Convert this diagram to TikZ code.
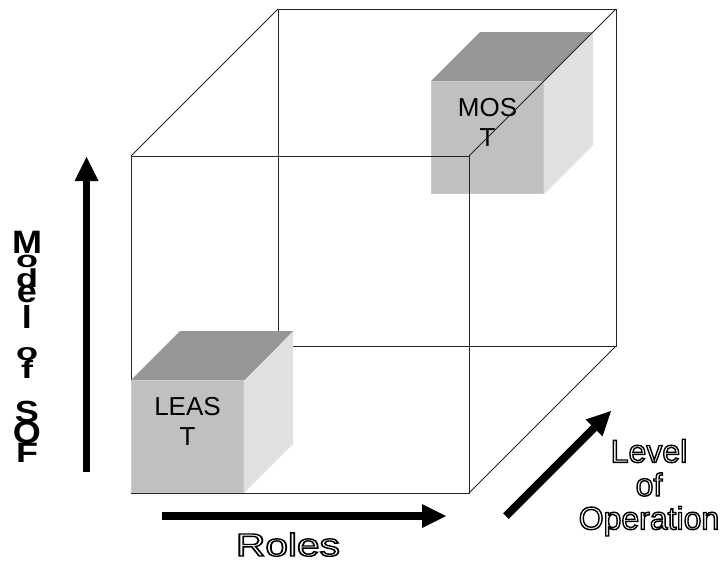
\documentclass[tikz,border=0pt]{standalone}
\usepackage{fontspec}
\setmainfont{Liberation Sans}
\usepackage{graphicx}
\usetikzlibrary{arrows.meta}
\definecolor{frontc}{HTML}{C0C0C0}
\definecolor{frontb}{HTML}{CACACA}
\definecolor{topc}{HTML}{969696}
\definecolor{rightc}{HTML}{E0E0E0}
\newcommand\outl[1]{\special{pdf:literal direct 2 Tr 1.4 w 0 0 0 RG 1 1 1 rg}#1\special{pdf:literal direct 0 Tr 0 0 0 rg}}
\newcommand\drawcubebox[4]{%
  \fill[rightc] (#1+113,#2) -- ++(49,-49) -- ++(0,113) -- ++(-49,49) -- cycle;
  \fill[topc] (#1,#2) -- ++(49,-49) -- ++(113,0) -- ++(-49,49) -- cycle;
  \filldraw[fill=frontc, draw=frontb, line width=1pt] (#1+0.5,#2+0.5) rectangle ++(112,112);
  \node[cubelabel] (#3) at (#1+56.5,#2+17) {#4};
}
\begin{document}
\begin{tikzpicture}[x=1pt,y=-1pt,
  edge/.style={draw=black!85, line width=0.8pt},
  cubelabel/.style={anchor=north, inner sep=0pt, align=center,
    font=\fontsize{26}{30.5}\selectfont},
  vletter/.style={anchor=base, inner sep=0pt,
    font=\fontsize{36}{36}\selectfont\bfseries},
  outlined/.style={inner sep=0pt, align=center,
    font=\fontsize{32}{33.5}\selectfont},
  fatarrow/.style={line width=#1, black,
    -{Triangle[length=24pt, width=24pt, line width=0pt]}}]
\fill[white] (0,0) rectangle (720,570);
\useasboundingbox (0,0) rectangle (720,570);
% big cube corners
\coordinate (F1) at (131,156);
\coordinate (F2) at (469,156);
\coordinate (F3) at (469,493);
\coordinate (F4) at (131,493);
\coordinate (B1) at (278,9);
\coordinate (B2) at (616,9);
\coordinate (B3) at (616,346);
\coordinate (B4) at (278,346);
% back face
\draw[edge] (B1) -- (B2) -- (B3) -- (B4) -- cycle;
\draw[edge] (F4) -- (B4);
% MOST cube
\drawcubebox{431}{81}{most}{MOS\\T}
% connecting edges and front face
\draw[edge] (F1) -- (B1) (F2) -- (B2) (F3) -- (B3);
\draw[edge] (F1) -- (F2) -- (F3) -- (F4) -- cycle;
% LEAST cube
\drawcubebox{131}{380}{least}{LEAS\\T}
% axis arrows
\coordinate (va) at (86.5,472);
\coordinate (vb) at (86.5,157);
\draw[fatarrow=7pt] (va) -- (vb);
\coordinate (ha) at (162,516);
\coordinate (hb) at (446,516);
\draw[fatarrow=8pt] (ha) -- (hb);
\coordinate (da) at (506,516);
\coordinate (db) at (611,411);
\draw[fatarrow=8pt] (da) -- (db);
% labels
\foreach \ch/\yy/\sc [count=\i] in {M/253/0.9, o/267/0.64, d/287/0.72, e/302/0.88,
    l/328/0.88, o/360/0.67, f/378/0.7, S/422/0.85, O/443/0.88, F/462/0.78}
  \node[vletter] (sof\i) at (27,\yy) {\scalebox{1}[\sc]{\ch}};
\node[outlined, anchor=base] (roles) at (288,556)
  {\scalebox{1.27}[1]{\outl{Roles}}};
\node[outlined, anchor=north] (level) at (649,439)
  {\outl{Level}\\\outl{of}\\\outl{Operation}};
\end{tikzpicture}
\end{document}
